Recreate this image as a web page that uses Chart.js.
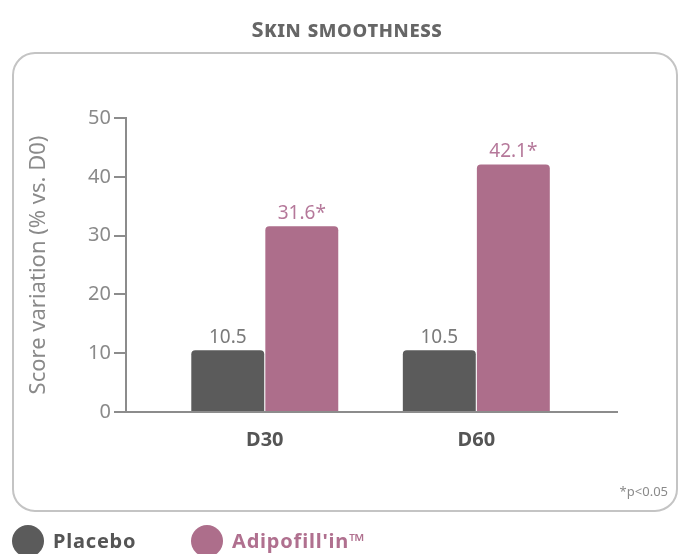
<!DOCTYPE html>
<html>
<head>
<meta charset="utf-8">
<script src="https://cdn.jsdelivr.net/npm/chart.js@4.4.0/dist/chart.umd.min.js"></script>
<style>
  html, body { margin: 0; padding: 0; background: #fff; }
  #wrap { position: relative; width: 679px; height: 554px; }
  #title {
    position: absolute; left: 0; top: 13px; width: 694px; text-align: center;
    font-family: "Noto Sans", sans-serif; font-weight: bold; font-size: 22px;
    font-variant: small-caps; color: #666; letter-spacing: 0.6px;
  }
  canvas { position: absolute; left: 0; top: 0; }
</style>
</head>
<body>
<div id="wrap">
  <canvas id="myChart" width="679" height="554"></canvas>
  <div id="title">Skin smoothness</div>
</div>
<script>
// data
const categories = ["D30", "D60"];
const placebo = [10.5, 10.5];
const adipofillin = [31.6, 42.1];
const placeboMarks = ["", ""];
const adipofillinMarks = ["*", "*"];
const yTicks = [0, 10, 20, 30, 40, 50];
const seriesNames = ["Placebo", "Adipofill'in™"];
const footnote = "*p<0.05";

const FONT = "'Noto Sans', sans-serif";
const GREY = "#5b5b5b";
const PINK = "#ad6e8b";

// rounded frame, value labels, footnote, legend
const decorations = {
  id: "decorations",
  beforeDraw(chart) {
    const c = chart.ctx;
    c.save();
    c.strokeStyle = "#c4c4c4";
    c.lineWidth = 2;
    c.beginPath();
    c.roundRect(13, 53, 664, 458, 22);
    c.stroke();
    c.restore();
  },
  afterDatasetsDraw(chart) {
    const c = chart.ctx;
    const marks = [placeboMarks, adipofillinMarks];
    const colors = ["#7a7a7a", "#b5789a"];
    c.save();
    c.font = "19px " + FONT;
    c.textAlign = "center";
    c.textBaseline = "bottom";
    chart.data.datasets.forEach((ds, i) => {
      chart.getDatasetMeta(i).data.forEach((bar, j) => {
        c.fillStyle = colors[i];
        c.fillText(ds.data[j].y + marks[i][j], bar.x, bar.y - 3);
      });
    });

    c.font = "13px " + FONT;
    c.fillStyle = "#8a8a8a";
    c.textAlign = "right";
    c.textBaseline = "middle";
    c.fillText(footnote, 668, 492);

    // legend
    const items = [
      { x: 28, color: GREY, text: "#555" },
      { x: 207, color: PINK, text: "#b0708f" },
    ];
    c.font = "bold 20px " + FONT;
    c.letterSpacing = "0.8px";
    c.textAlign = "left";
    items.forEach((it, i) => {
      c.fillStyle = it.color;
      c.beginPath();
      c.arc(it.x, 541, 16, 0, Math.PI * 2);
      c.fill();
      c.fillStyle = it.text;
      c.fillText(chart.data.datasets[i].label, it.x + 25, 542);
    });
    c.restore();
  },
};

const ctx = document.getElementById("myChart");
new Chart(ctx, {
  type: "bar",
  data: {
    datasets: [
      {
        label: seriesNames[0],
        data: placebo.map((v, i) => ({ x: i, y: v })),
        backgroundColor: GREY,
        borderRadius: 4,
        borderSkipped: "bottom",
        categoryPercentage: 0.7,
        barPercentage: 0.985,
      },
      {
        label: seriesNames[1],
        data: adipofillin.map((v, i) => ({ x: i, y: v })),
        backgroundColor: PINK,
        borderRadius: 4,
        borderSkipped: "bottom",
        categoryPercentage: 0.7,
        barPercentage: 0.985,
      },
    ],
  },
  options: {
    responsive: false,
    animation: false,
    layout: {
      padding: { left: 12, top: 118, right: 62, bottom: 102 },
    },
    plugins: {
      legend: { display: false },
      tooltip: { enabled: false },
    },
    scales: {
      x: {
        type: "linear",
        min: -0.656,
        max: 1.665,
        offset: false,
        afterFit(scale) {
          scale.height = 40;
        },
        afterBuildTicks(scale) {
          scale.ticks = categories.map((c, i) => ({ value: i }));
        },
        grid: { display: false, drawTicks: false },
        border: { color: "#8c8c8c", width: 2 },
        ticks: {
          padding: 16,
          color: "#555",
          font: { family: FONT, size: 20, weight: "bold" },
          callback: (v) => categories[v],
        },
      },
      y: {
        min: 0,
        max: 50,
        afterFit(scale) {
          scale.width = 114;
        },
        afterBuildTicks(scale) {
          scale.ticks = yTicks.map((v) => ({ value: v }));
        },
        grid: {
          drawOnChartArea: false,
          drawTicks: true,
          tickLength: 12,
          color: "#8c8c8c",
          lineWidth: 2,
        },
        border: { color: "#8c8c8c", width: 2 },
        ticks: {
          padding: 3,
          color: "#8a8a8a",
          font: { family: FONT, size: 20 },
        },
        title: {
          display: true,
          text: "Score variation (% vs. D0)",
          color: "#8a8a8a",
          padding: { top: 14 },
          font: { family: FONT, size: 22 },
        },
      },
    },
  },
  plugins: [decorations],
});
</script>
</body>
</html>
